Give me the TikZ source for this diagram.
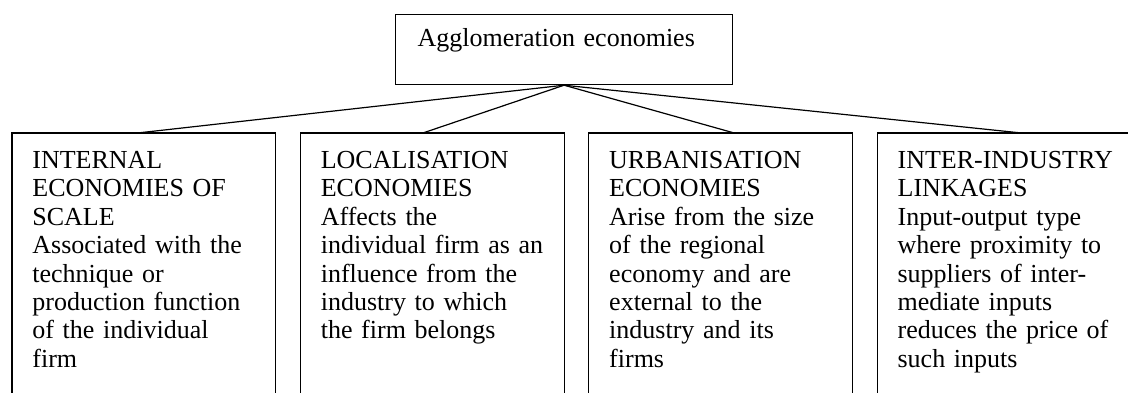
\documentclass[tikz,border=0pt]{standalone}
\usepackage{fontspec}
\setmainfont{Liberation Serif}
\usetikzlibrary{positioning}

\tikzset{
  frame/.style={line width=0.6pt},
  card/.style={inner xsep=10pt, inner ysep=0pt, text width=111.5pt, align=left,
    font=\fontsize{13}{14.2}\selectfont},
}
\newcommand{\firstgap}{\rule{0pt}{17.5pt}}

\begin{document}
\begin{tikzpicture}
    \useasboundingbox (0,0) rectangle (564pt,-196pt);
    \pgfmathsetmacro{\gap}{12.3}
    \pgfmathsetmacro{\depth}{140}

    \node[draw, frame, anchor=north west, inner xsep=11pt, inner ysep=0pt, text width=146.5pt,
        align=left, text height=16pt, text depth=19pt, font=\fontsize{13}{14.2}\selectfont]
        (agg) at (197.5pt,-7pt) {Agglomeration economies};

    \node[card, anchor=north west] (intl) at (6pt,-66.5pt)
        {\firstgap INTERNAL\\ ECONOMIES OF\\ SCALE\\ Associated with the\\ technique or\\
         production function\\ of the individual\\ firm};
    \node[card, right=\gap pt of intl.north east, anchor=north west] (local)
        {\firstgap LOCALISATION\\ ECONOMIES\\ Affects the\\ individual firm as an\\
         influence from the\\ industry to which\\ the firm belongs};
    \node[card, right=\gap pt of local.north east, anchor=north west] (urban)
        {\firstgap URBANISATION\\ ECONOMIES\\ Arise from the size\\ of the regional\\
         economy and are\\ external to the\\ industry and its\\ firms};
    \node[card, right=\gap pt of urban.north east, anchor=north west] (link)
        {\firstgap INTER-INDUSTRY\\ LINKAGES\\ Input-output type\\ where proximity to\\
         suppliers of inter-\\ mediate inputs\\ reduces the price of\\ such inputs};

    % boxes run past the lower edge
    \foreach \b in {intl,local,urban,link} {
        \draw[frame] (\b.north west) rectangle ([yshift=-\depth pt]\b.north east);
    }

    \foreach \b/\s in {intl/-3.25,local/-4.75,urban/6.75,link/6.25} {
        \draw[frame] (agg.south) -- ([xshift=\s pt]\b.north);
    }
\end{tikzpicture}
\end{document}
